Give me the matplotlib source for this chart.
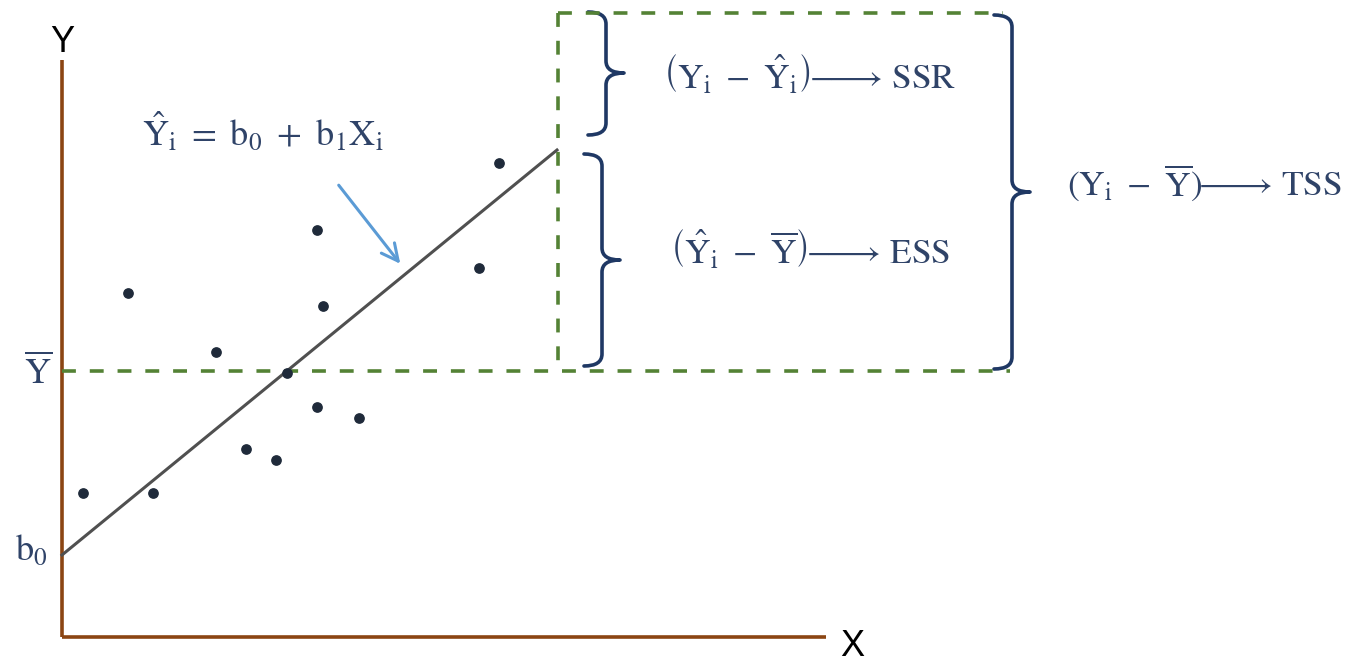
import matplotlib.pyplot as plt
from matplotlib.path import Path
from matplotlib.patches import PathPatch
import numpy as np

plt.rcParams['mathtext.fontset'] = 'stix'
plt.rcParams['lines.scale_dashes'] = False

# canvas coordinates (pixels, y pointing down)
W, H = 1347, 663

# scatter observations
obs_x = [83, 128, 153, 216, 246, 276, 287, 317, 317, 323, 359, 479, 499]
obs_y = [493, 293, 493, 352, 449, 460, 373, 230, 407, 306, 418, 268, 163]

# fitted line end points and the mean level
fit_x = [62, 557]
fit_y = [555, 150]
y_mean = 371
y_top = 13
x_split = 558

# axes frame
origin = (62, 637)
y_axis_top = 60
x_axis_end = 826

# braces: (x of spine, top, bottom, tip y)
braces = [(606, 12, 135, 73), (602, 154, 366, 260), (1012, 15, 369, 192)]

# labels
part_labels = [
    (810, 73, r'$\left(\mathrm{Y_i}\ -\ \mathrm{\hat{Y}_i}\right)\!\!-\!\!\!\!\longrightarrow\, \mathrm{SSR}$'),
    (810, 248, r'$\left(\mathrm{\hat{Y}_i}\ -\ \mathrm{\overline{Y}}\right)\!\!-\!\!\!\!\longrightarrow\, \mathrm{ESS}$'),
    (1204, 183, r'$(\mathrm{Y_i}\ -\ \mathrm{\overline{Y}})\!\!-\!\!\!\!\longrightarrow\, \mathrm{TSS}$'),
]

text_color = '#2f4368'
brace_color = '#1f3864'
green = '#548235'
brown = '#8b4513'


def brace(ax, x, y0, y1, ym, curl=18, tip=18, r=12):
    verts = [(x - curl, y0), (x, y0), (x, y0 + r),
             (x, ym - r), (x, ym), (x + tip, ym),
             (x, ym), (x, ym + r),
             (x, y1 - r), (x, y1), (x - curl, y1)]
    codes = [Path.MOVETO, Path.CURVE3, Path.CURVE3,
             Path.LINETO, Path.CURVE3, Path.CURVE3,
             Path.CURVE3, Path.CURVE3,
             Path.LINETO, Path.CURVE3, Path.CURVE3]
    ax.add_patch(PathPatch(Path(verts, codes), fill=False, color=brace_color,
                           lw=2.6, capstyle='round', joinstyle='round'))


fig = plt.figure(figsize=(W / 100, H / 100), dpi=100)
ax = fig.add_axes([0, 0, 1, 1])
ax.set_xlim(0, W)
ax.set_ylim(H, 0)
ax.axis('off')

# axes
ax.plot([origin[0], origin[0]], [y_axis_top, origin[1]], color=brown, lw=2.6, solid_capstyle='butt')
ax.plot([origin[0], x_axis_end], [origin[1], origin[1]], color=brown, lw=2.6, solid_capstyle='butt')
ax.text(origin[0], 42, 'Y', fontsize=26, ha='center', va='center', family='Liberation Sans')
ax.text(852, 646, 'X', fontsize=26, ha='center', va='center', family='Liberation Sans')

# dashed guides
dash = (0, (10, 10))
ax.plot([origin[0], 1010], [y_mean, y_mean], color=green, lw=2.6, linestyle=dash)
ax.plot([x_split, x_split], [y_top, y_mean], color=green, lw=2.6, linestyle=dash)
ax.plot([x_split, 1003], [y_top, y_top], color=green, lw=2.6, linestyle=dash)

# regression line and points
ax.plot(fit_x, fit_y, color='#505050', lw=2.2)
ax.scatter(obs_x, obs_y, s=45, color='#1f2a3a', zorder=3)

# pointer to the line
ax.annotate('', xy=(402, 266), xytext=(337, 183),
            arrowprops=dict(arrowstyle='->', color='#5b9bd5', lw=2.2, mutation_scale=30))

ax.text(263, 131, r'$\mathrm{\hat{Y}_i\ =\ b_0\ +\ b_1X_i}$', fontsize=26, color=text_color,
        ha='center', va='center')
ax.text(38, 372, r'$\mathrm{\overline{Y}}$', fontsize=26, color=text_color, ha='center', va='center')
ax.text(31, 550, r'$\mathrm{b_0}$', fontsize=26, color=text_color, ha='center', va='center')

for b in braces:
    brace(ax, *b)

for x, y, s in part_labels:
    ax.text(x, y, s, fontsize=25.5, color=text_color, ha='center', va='center')

fig.savefig('out.png', dpi=100)
